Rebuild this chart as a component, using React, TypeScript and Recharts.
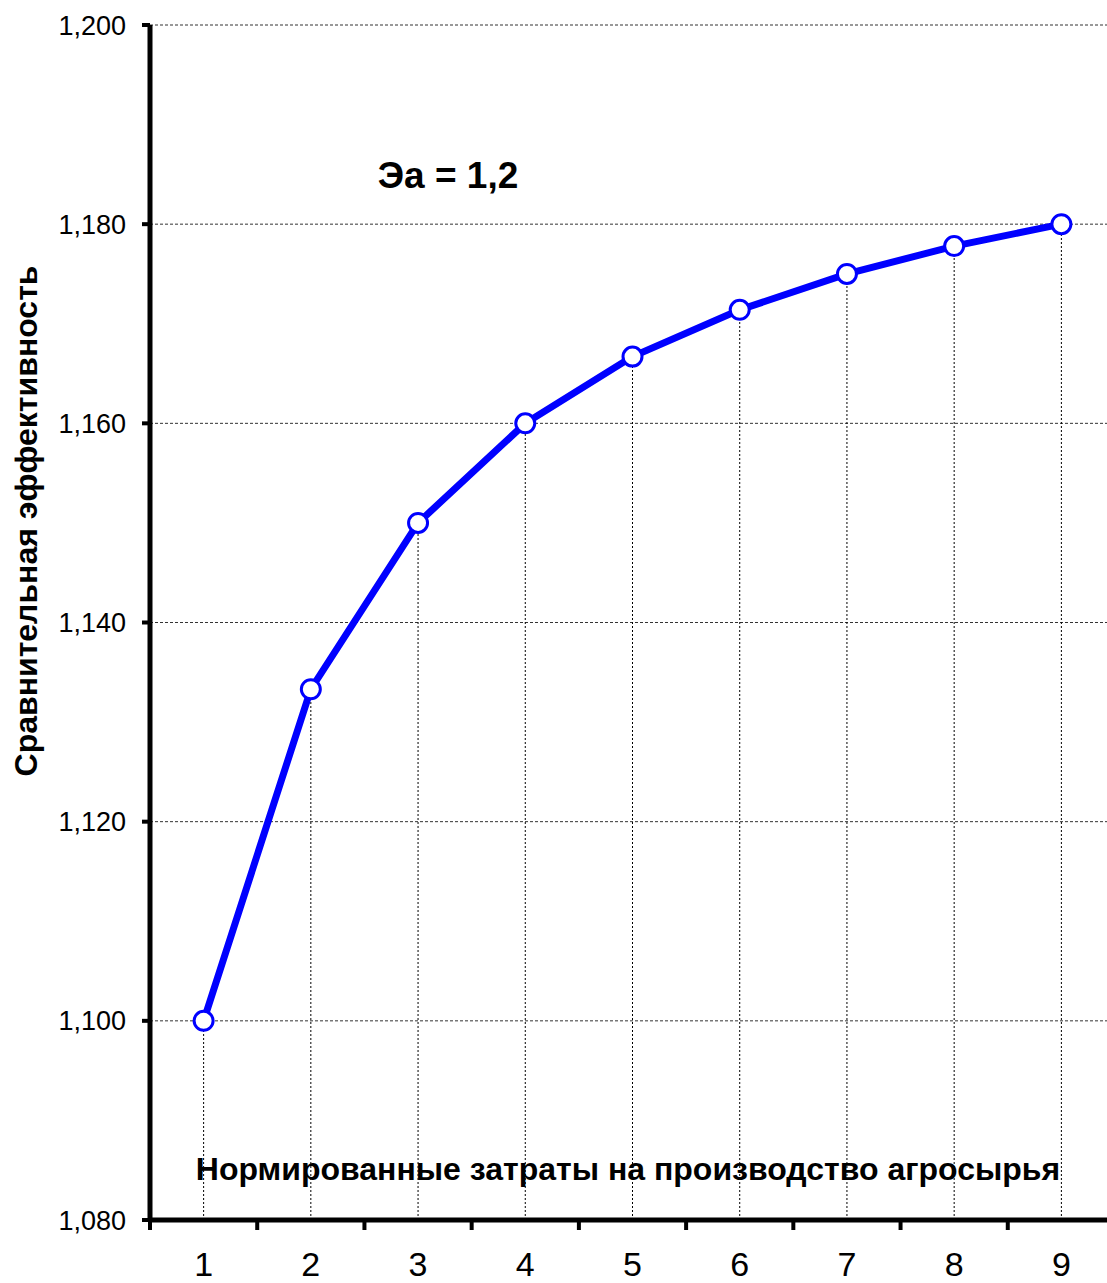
import React from 'react'
import { LineChart, Line, XAxis, YAxis, CartesianGrid, ReferenceLine, Label } from 'recharts'

const categories = ['1', '2', '3', '4', '5', '6', '7', '8', '9']
const efficiency = [1.1, 1.1333, 1.15, 1.16, 1.1667, 1.1714, 1.175, 1.1778, 1.18]
const yTicks = [1.08, 1.1, 1.12, 1.14, 1.16, 1.18, 1.2]

const yTitle = 'Сравнительная эффективность'
const xTitle = 'Нормированные затраты на производство агросырья'
const note = 'Эа = 1,2'

const FONT = '"Liberation Sans", Arial, sans-serif'
const CHART_W = 1130
const CHART_H = 1283
const PLOT_LEFT = 150
const PLOT_RIGHT = 1115
const PLOT_BOTTOM = 1220
const HALF_BAND = (PLOT_RIGHT - PLOT_LEFT) / categories.length / 2

const data = categories.map((c, i) => ({ x: c, y: efficiency[i] }))

const fmt = (v: number) => v.toFixed(3).replace('.', ',')

function XTick(props: any) {
  const { x, index, payload } = props
  const last = index === categories.length - 1
  return (
    <g>
      <line x1={x - HALF_BAND} x2={x - HALF_BAND} y1={PLOT_BOTTOM} y2={PLOT_BOTTOM + 10} stroke="#000" strokeWidth={4} />
      {last && (
        <line x1={x + HALF_BAND} x2={x + HALF_BAND} y1={PLOT_BOTTOM} y2={PLOT_BOTTOM + 10} stroke="#000" strokeWidth={4} />
      )}
      <text x={x} y={PLOT_BOTTOM + 56} textAnchor="middle" fontSize={34} fill="#000" fontFamily={FONT}>
        {payload.value}
      </text>
    </g>
  )
}

export default function App() {
  return (
    <div
      style={{
        position: 'absolute',
        left: 0,
        top: 0,
        width: 1107,
        height: 1283,
        overflow: 'hidden',
        background: '#fff',
        fontFamily: FONT,
      }}
    >
      <LineChart
        width={CHART_W}
        height={CHART_H}
        data={data}
        margin={{ top: 25, right: CHART_W - PLOT_RIGHT, bottom: 0, left: 0 }}
        style={{ fontFamily: FONT }}
      >
        <CartesianGrid vertical={false} stroke="#333" strokeDasharray="3 2" strokeWidth={1} />
        <XAxis
          dataKey="x"
          type="category"
          height={CHART_H - PLOT_BOTTOM}
          padding={{ left: HALF_BAND, right: HALF_BAND }}
          axisLine={{ stroke: '#000', strokeWidth: 5 }}
          tickLine={false}
          tick={<XTick />}
          interval={0}
        >
          <Label
            content={() => (
              <text x={628} y={1180} textAnchor="middle" fontSize={32} fontWeight="bold" fill="#000" fontFamily={FONT}>
                {xTitle}
              </text>
            )}
          />
        </XAxis>
        <YAxis
          width={PLOT_LEFT}
          domain={[1.08, 1.2]}
          ticks={yTicks}
          type="number"
          allowDataOverflow
          tickFormatter={fmt}
          tick={{ fontSize: 27, fill: '#000', fontFamily: FONT }}
          tickSize={8}
          tickMargin={16}
          tickLine={{ stroke: '#000', strokeWidth: 4 }}
          axisLine={{ stroke: '#000', strokeWidth: 5 }}
        >
          <Label
            content={() => (
              <g>
                <text
                  x={37}
                  y={521}
                  transform="rotate(-90 37 521)"
                  textAnchor="middle"
                  fontSize={32}
                  fontWeight="bold"
                  fill="#000"
                  fontFamily={FONT}
                >
                  {yTitle}
                </text>
                <text x={448} y={188} textAnchor="middle" fontSize={37} fontWeight="bold" fill="#000" fontFamily={FONT}>
                  {note}
                </text>
              </g>
            )}
          />
        </YAxis>
        {data.map((d) => (
          <ReferenceLine
            key={d.x}
            segment={[
              { x: d.x, y: 1.08 },
              { x: d.x, y: d.y },
            ]}
            stroke="#000"
            strokeDasharray="2 2"
            strokeWidth={1}
          />
        ))}
        <Line
          type="linear"
          dataKey="y"
          stroke="#0000ff"
          strokeWidth={7}
          dot={{ r: 9.5, fill: '#fff', stroke: '#0000ff', strokeWidth: 3 }}
          activeDot={false}
          isAnimationActive={false}
        />
      </LineChart>
    </div>
  )
}
